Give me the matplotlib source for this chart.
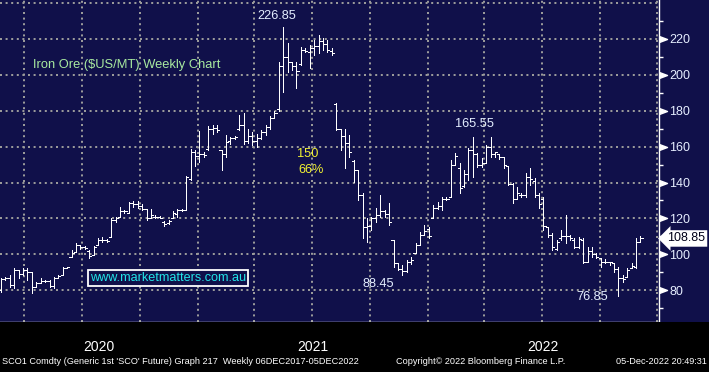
import numpy as np
import pandas as pd
import matplotlib
matplotlib.use("Agg")
import matplotlib.pyplot as plt
import matplotlib.transforms as mtrans
import matplotlib.dates as mdates
from matplotlib.patches import Rectangle

plt.rcParams['font.family'] = ['Liberation Sans', 'DejaVu Sans']

# ---------------- data (weekly OHLC, SCO1 iron ore, US$/t) ----------------
last_week = "2022-12-05"

week_open = [
    80, 86, 87, 83, 91, 89, 91, 90, 82, 84,
    85, 85, 82.5, 87, 88.5, 92.5, 98.7, 101.5, 105, 104,
    102, 99.6, 105, 108, 108, 109.5, 119, 121, 124, 123,
    128.5, 128, 127, 125, 120.5, 121, 121, 118, 117.5, 120,
    122.5, 124.5, 124.7, 142, 157, 155, 156, 158.5, 170, 170.5,
    158, 156, 163, 165, 170, 172, 163, 166, 163, 165,
    168, 171, 176, 181, 205, 210, 207, 205, 206, 214,
    213, 215, 216, 219, 217, 213.5, 184, 170, 166, 162,
    152, 147, 133, 115, 116, 120, 122, 124, 122.5, 108,
    95, 92, 90.5, 96, 101, 105, 111, 114, 120, 126,
    127, 131, 132, 150, 148, 138, 145, 158, 156, 150,
    151, 160, 156, 156, 154, 149, 139, 131, 133, 133,
    143, 141, 133, 131, 115, 111, 103, 109, 110, 110,
    108, 104, 108, 96, 102, 100, 98, 96, 96, 95,
    92, 87, 87.6, 92.5, 93, 107,
]
week_high = [
    87, 87.6, 88.5, 92.2, 91.3, 92.2, 92.2, 90, 84.8, 86.6,
    85.7, 85.7, 87.6, 88.5, 93.1, 93.1, 102.4, 106.1, 105.2, 104.6,
    102.4, 104.6, 109, 109.5, 108.5, 120, 121, 126.6, 124.5, 129,
    129.5, 129.5, 128, 125, 125, 122, 121.5, 118.5, 119, 124,
    125, 125, 143.7, 158.5, 158, 168.9, 157, 171.5, 172, 172,
    158, 166.5, 165.5, 166, 177.6, 178.6, 170, 168, 167, 169,
    172, 177, 180, 207, 226.85, 217.6, 207.3, 207.3, 215.7, 214.8,
    216.6, 219.4, 222.2, 220.3, 219.4, 214.8, 184.1, 170, 170, 166.5,
    152.6, 147, 134, 120, 121, 125.6, 133, 124.7, 128.4, 108,
    95, 94.1, 96.9, 98.7, 106.1, 112.6, 116.3, 115.4, 127.5, 129,
    132.1, 132, 152.6, 156.3, 150.7, 147, 159, 165.55, 156.3, 153.5,
    160.9, 165.4, 157.2, 156, 154, 149, 139.6, 137.7, 134, 145.1,
    147.9, 142.4, 134, 132.1, 115.4, 111.7, 108, 113.6, 121.9, 110.8,
    108.9, 109.8, 108.9, 104.3, 104.3, 100.5, 98, 97.5, 96, 95,
    93.1, 88.5, 92.2, 95, 109, 110,
]
week_low = [
    79, 85.7, 82, 81.1, 86.6, 88.5, 85.7, 78.3, 82, 83.9,
    84.8, 82, 81.1, 86.6, 88.5, 92.2, 98.7, 101.5, 103, 103,
    97.8, 99.5, 105, 107, 107, 109.5, 118, 120.6, 123, 123,
    126.5, 126, 124.5, 119, 120, 120, 120, 116, 117, 120,
    121, 124, 124.7, 141.4, 149, 151.5, 154, 158, 167, 168,
    147, 154.4, 161.5, 164.5, 169.3, 161.5, 162, 161, 160, 164,
    166.5, 170, 176, 180, 190.6, 201.8, 202.7, 192.5, 205.5, 212.9,
    203.6, 211, 212, 213.8, 213, 211, 169.3, 158, 148, 154,
    140.5, 130, 109, 107, 113.6, 118, 121, 121, 116.4, 93.1,
    91, 88.45, 90.4, 94.6, 100.6, 105, 110.8, 109, 120, 125,
    124.7, 130, 132, 149.8, 134, 137.7, 141.4, 143.3, 148.9, 148.9,
    150.7, 154.4, 154.4, 153, 147.9, 138.6, 128.4, 131, 132, 132.1,
    138.6, 132.1, 125.6, 113.6, 109.9, 102.4, 102.4, 108, 106.1, 108,
    103.3, 103.3, 95, 95.9, 98.7, 97.8, 93.1, 95, 94, 90.4,
    76.85, 84.8, 87.6, 92.2, 92.5, 107,
]
week_close = [
    86, 87, 83, 91, 89, 91, 90, 82, 84, 85,
    85, 82.5, 87, 88, 92.5, 92.8, 101, 105, 104, 103.5,
    99, 104, 108, 108, 107.5, 119, 120.5, 124, 124, 128.5,
    128, 127, 125.5, 120.5, 122, 121, 120.5, 117, 118.5, 123,
    124.5, 124.7, 143, 157, 155, 156, 155.5, 170, 170.5, 169,
    156, 162.5, 165, 165.5, 172, 163, 166, 163, 165, 168,
    171, 176, 179, 205, 210, 207, 205, 202, 214, 213.5,
    215, 216, 219, 217, 214, 212, 170, 166, 162, 157,
    147, 133, 115, 116, 120, 122, 124, 122.5, 118, 95,
    92, 90.5, 96, 97, 105, 111, 113, 110, 126, 127,
    131, 131, 150, 155, 137, 145, 158, 156, 150, 151,
    160, 156, 157, 154, 150, 139, 131, 134, 133, 143,
    142, 133, 128, 116, 111, 104, 107, 110, 110, 109,
    104, 108.5, 95.5, 102, 100, 98.5, 96, 96, 95.5, 92,
    87, 86, 91, 93.5, 107, 108.85,
]

y_tick_values = [80, 100, 120, 140, 160, 180, 200, 220]
y_grid_values = [80, 100, 120, 140, 160, 180, 200, 220, 240]
y_minor_values = [70, 90, 110, 130, 150, 170, 190, 210, 230]
year_labels = ["2020", "2021", "2022"]
year_starts = ["2021-01-01", "2022-01-01", "2023-01-01"]
quarter_starts = ["2020-04-01", "2020-07-01", "2020-10-01", "2021-01-01",
                  "2021-04-01", "2021-07-01", "2021-10-01", "2022-01-01",
                  "2022-04-01", "2022-07-01", "2022-10-01", "2023-01-01"]
value_labels = ["226.85", "165.55", "88.45", "76.85"]
value_label_weeks = [62.6, 107.3, 85.5, 134.0]
value_label_levels = [232.8, 172.6, 83.5, 76.2]
last_price = 108.85

# ---------------- styling ----------------
NAVY = "#10104a"
GRID = "#9a9a9a"
W, H = 709, 372

fig = plt.figure(figsize=(W / 100, H / 100), dpi=100, facecolor=NAVY)
fig.patches.append(Rectangle((0, 0), 1, 50 / H, transform=fig.transFigure,
                             facecolor="black", edgecolor="none", zorder=0))
ax = fig.add_axes([0, 50 / H, 659 / W, 322 / H])
ax.set_facecolor(NAVY)

dates = pd.date_range(end=last_week, periods=len(week_close), freq="7D")
x = mdates.date2num(dates.to_pydatetime())
x0 = x[0]

def wk(i):
    return x0 + 7.0 * i

ax.set_xlim(wk(-0.23), wk(149.2))
ax.set_ylim(62.3, 241.7)

# grid
dash = (0, (1.0, 1.8))
for v in y_grid_values:
    ax.axhline(v, color=GRID, lw=1.44, ls=dash, zorder=1)
qx = mdates.date2num(pd.to_datetime(quarter_starts).to_pydatetime())
for q in qx:
    ax.axvline(q, color=GRID, lw=1.44, ls=dash, zorder=1)

# OHLC bars
tick_w = 3.3
bar_kw = dict(color="white", lw=0.65, zorder=3, antialiased=False)
ax.vlines(x, week_low, week_high, **bar_kw)
ax.hlines(week_open, x - tick_w, x, **bar_kw)
ax.hlines(week_close, x, x + tick_w, **bar_kw)

# spines
for s in ["top", "left"]:
    ax.spines[s].set_visible(False)
for s in ["right", "bottom"]:
    ax.spines[s].set_color("white")
    ax.spines[s].set_linewidth(1.0)

# y axis on right
ax.yaxis.tick_right()
ax.set_yticks(y_tick_values)
ax.set_yticklabels([str(v) for v in y_tick_values])
ax.set_yticks(y_minor_values, minor=True)
ax.tick_params(axis="y", which="major", length=0, pad=7.5, labelsize=9,
               labelcolor="#e6eeff")
ax.tick_params(axis="y", which="minor", length=3, width=1, color="white")
trans_ay = mtrans.blended_transform_factory(ax.transAxes, ax.transData)
ax.plot([1.0] * len(y_tick_values), y_tick_values, ls="none",
        marker=[(0, -3), (8, 0), (0, 3)], ms=11.5, color="white",
        transform=trans_ay, clip_on=False, zorder=5)

# x axis ticks (quarters + subdivisions)
minor_x = []
for a, b in zip(qx[:-1], qx[1:]):
    for k in range(4):
        minor_x.append(a + (b - a) * k / 4)
minor_x.append(qx[-1])
step = (qx[1] - qx[0]) / 4
prev = qx[0] - step
while prev > ax.get_xlim()[0]:
    minor_x.append(prev)
    prev -= step
ax.set_xticks(minor_x)
ax.set_xticklabels([])
ax.tick_params(axis="x", which="major", length=3, width=1, color="white",
               direction="out")

# year labels & separators in the black band
trans_xf = mtrans.blended_transform_factory(ax.transData, fig.transFigure)
ys = mdates.date2num(pd.to_datetime(year_starts).to_pydatetime())
year_centres = [(ax.get_xlim()[0] + ys[0]) / 2, (ys[0] + ys[1]) / 2, (ys[1] + ys[2]) / 2]
for lab, xc in zip(year_labels, year_centres):
    fig.text(xc, 1 - 347 / H, lab, transform=trans_xf, ha="center", va="center",
             color="white", fontsize=10)
for xs in ys:
    ax.plot([xs, xs], [1 - 336 / H, 1 - 357 / H], color="#8a8a8a", lw=1,
            transform=trans_xf, clip_on=False)

# annotations
for lab, wi, lv in zip(value_labels, value_label_weeks, value_label_levels):
    ax.text(wk(wi), lv, lab, ha="center", va="center", color="#e4eeff",
            fontsize=9.2, zorder=6)
ax.text(wk(7.26), 205.5, "Iron Ore ($US/MT) Weekly Chart", ha="left", va="center",
        color="#a8eaa0", fontsize=9.3, zorder=6)
ax.text(wk(69.6), 155.9, "150", ha="center", va="center", color="#f2f232",
        fontsize=9.2, zorder=6)
ax.text(wk(70.3), 147.0, "66%", ha="center", va="center", color="#f2f232",
        fontsize=9.2, zorder=6)
ax.text(wk(20.1), 86.8, "www.marketmatters.com.au", ha="left", va="center",
        color="#22e4e8", fontsize=9.1, zorder=6,
        bbox=dict(boxstyle="square,pad=0.14", fc=NAVY, ec="white", lw=1.3))

# last price tag
ax.text(1.0 + 8 / 659, last_price, f"{last_price:.2f}", transform=trans_ay,
        ha="left", va="center", color="#000018", fontsize=9, zorder=7,
        clip_on=False,
        bbox=dict(boxstyle="larrow,pad=0.18", fc="white", ec="none"))

# footer
fig.text(2 / W, 1 - 362 / H,
         "SCO1 Comdty (Generic 1st 'SCO' Future) Graph 217  Weekly 06DEC2017-05DEC2022",
         ha="left", va="center", color="white", fontsize=6.6)
fig.text(396 / W, 1 - 362 / H, "Copyright\u00a9 2022 Bloomberg Finance L.P.",
         ha="left", va="center", color="white", fontsize=6.6)
fig.text(707 / W, 1 - 362 / H, "05-Dec-2022 20:49:31",
         ha="right", va="center", color="white", fontsize=6.6)

fig.savefig("out.png", dpi=100, facecolor=NAVY)
